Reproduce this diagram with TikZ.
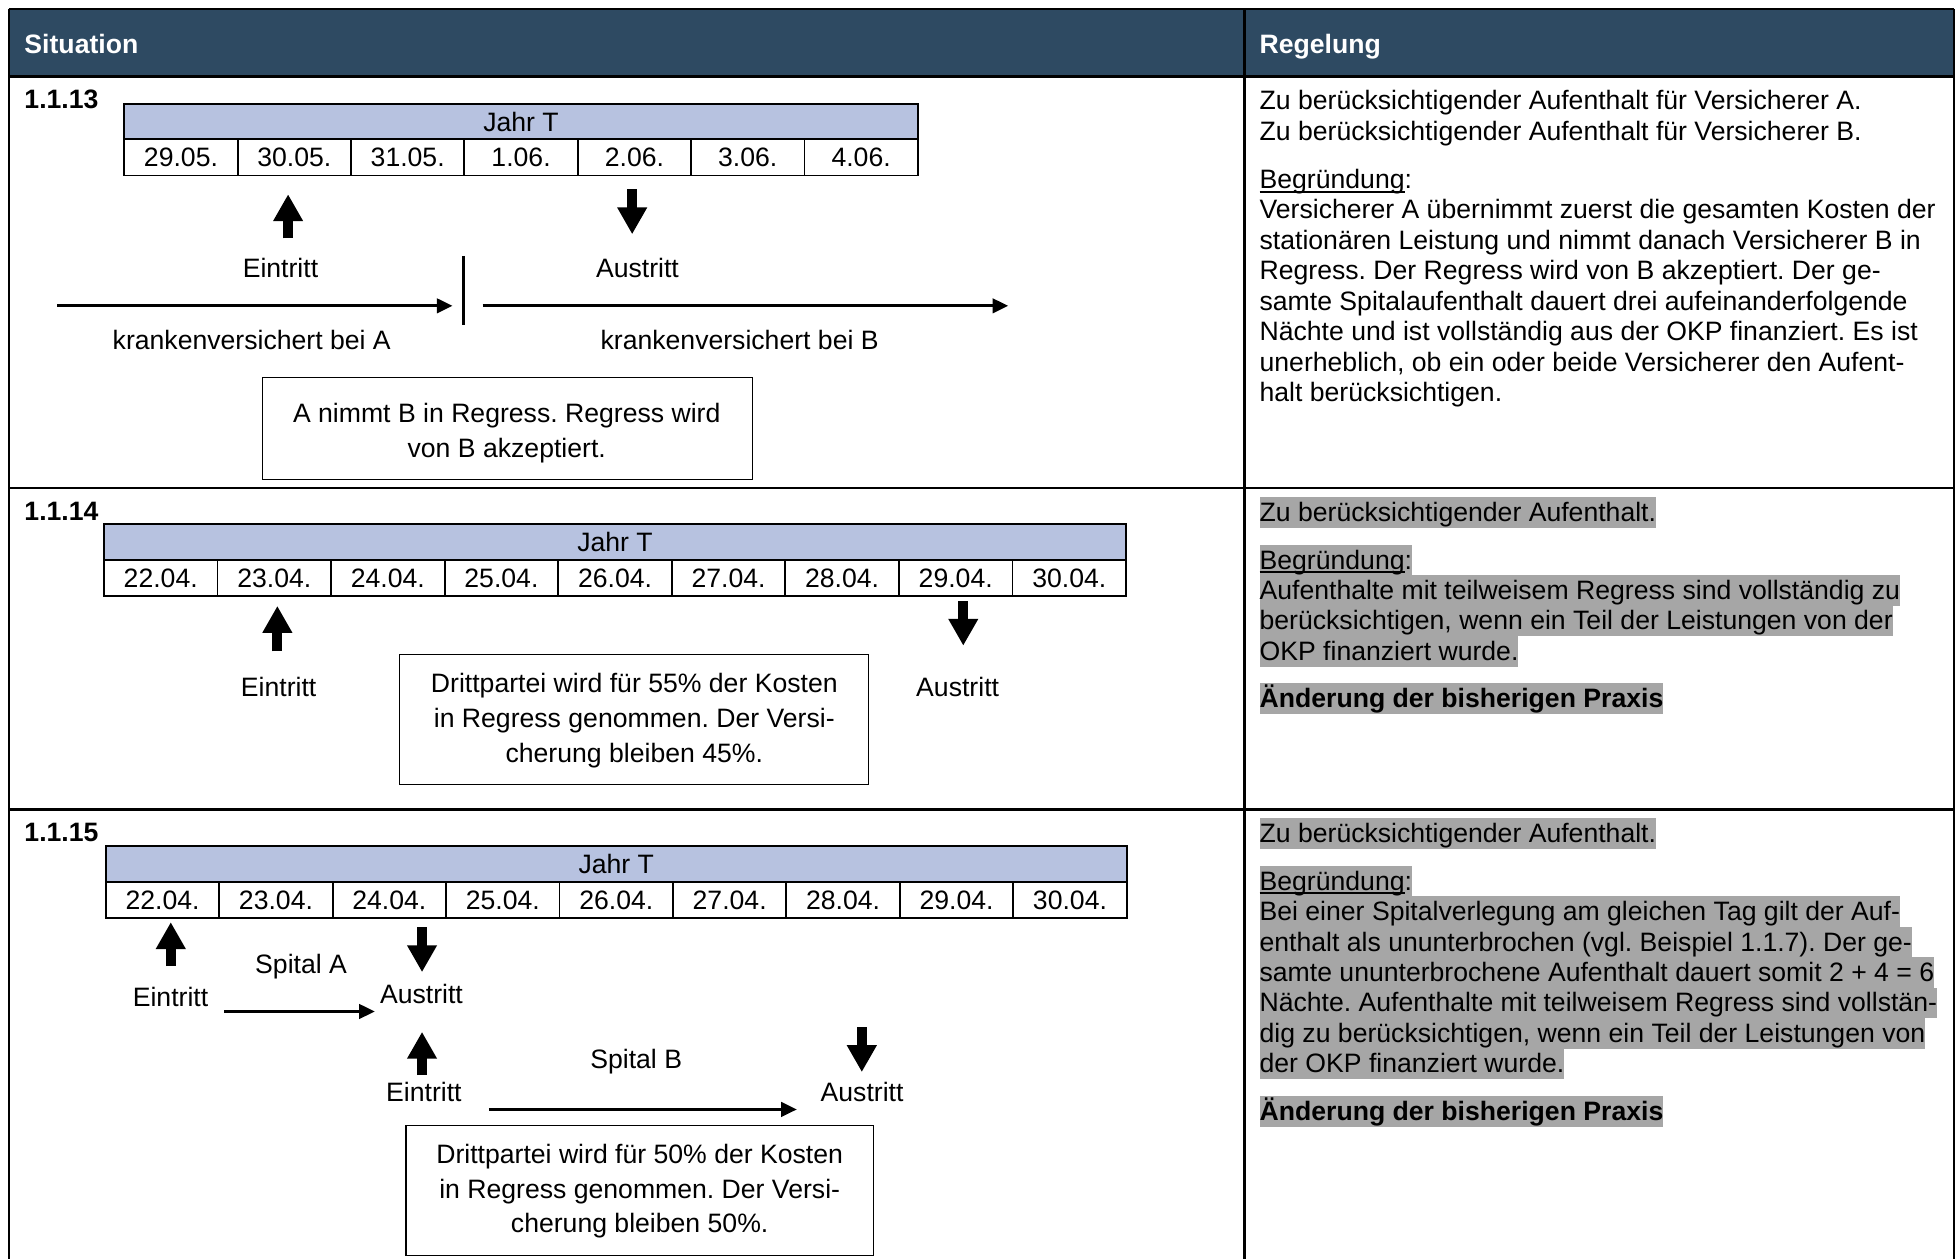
\documentclass[tikz,border=0pt]{standalone}
\usepackage{fontspec}
\setmainfont{Liberation Sans}
\usetikzlibrary{arrows.meta}
\definecolor{hdrblue}{RGB}{46,74,98}
\definecolor{jahrblue}{RGB}{183,194,224}
\definecolor{hlgray}{RGB}{166,166,166}
\newcommand\fsz{\fontsize{21.3}{28}\selectfont\frenchspacing}
\newcommand\myul[1]{\setbox0\hbox{#1}\rlap{\rule[-3.2pt]{\wd0}{1.5pt}}\box0}
\tikzset{
  rule/.style={line width=1.8pt},
  jahr/.style={draw, line width=1.5pt, fill=jahrblue, inner sep=0pt, minimum height=28.3pt},
  datecell/.style={draw, line width=1.5pt, inner sep=0pt, minimum height=29pt},
  lbl/.style={inner sep=0pt, anchor=base},
  txt/.style={inner sep=0pt, anchor=base west},
  hl/.style={inner sep=0pt, anchor=base west, fill=hlgray, text height=19.5pt, text depth=5pt},
  hdrtxt/.style={inner sep=0pt, anchor=base west, text=white, font=\fsz\bfseries},
  numlbl/.style={inner sep=0pt, anchor=base west, font=\fsz\bfseries},
  bigarrow/.style={line width=7.8pt, -{Triangle[width=22.5pt,length=21.5pt]}},
  thinarrow/.style={line width=2.4pt, -{Triangle[width=11.5pt,length=12.5pt]}},
  notebox/.style={draw, line width=0.9pt, inner sep=0pt, align=center},
}
\begin{document}
\begin{tikzpicture}[x=1pt,y=-1pt, every node/.style={font=\fsz}]
\useasboundingbox (0,0) rectangle (1568,1008);
% header
\fill[hdrblue] (7,7) rectangle (1564,61.3);
\node[hdrtxt] (hsit) at (19.4,42.5) {Situation};
\node[hdrtxt] (hreg) at (1008,42.5) {Regelung};
% grid
\draw[rule] (7,7) -- (1564,7);
\draw[rule] (7,7) -- (7,1008);
\draw[rule] (1564,7) -- (1564,1008);
\draw[rule] (996,7) -- (996,1008);
\draw[rule] (7,61.3) -- (1564,61.3);
\draw[rule] (7,390.7) -- (1564,390.7);
\draw[rule] (7,648) -- (1564,648);

% ================= Row 1.1.13
\node[numlbl] (n13) at (19.4,87.2) {1.1.13};
\node[jahr, minimum width=635.1pt] (ja) at ({99.5+635.1/2},97.35) {Jahr T};
\foreach \d [count=\i] in {29.05.,30.05.,31.05.,1.06.,2.06.,3.06.,4.06.}
  \node[datecell, minimum width=90.73pt] (ta\i) at ({99.5+(\i-0.5)*90.73},126) {\d};
\coordinate (a1s) at (230.6,190.7); \coordinate (a1e) at (230.6,155.5);
\draw[bigarrow] (a1s) -- (a1e);
\coordinate (a2s) at (506,151.5); \coordinate (a2e) at (506,187.5);
\draw[bigarrow] (a2s) -- (a2e);
\node[lbl] (ein1) at (224.5,221.8) {Eintritt};
\node[lbl] (aus1) at (510.2,222.5) {Austritt};
\coordinate (kAs) at (45.9,244.8); \coordinate (kAe) at (362.2,244.8);
\draw[thinarrow] (kAs) -- (kAe);
\coordinate (bar1) at (370.9,204.8); \coordinate (bar2) at (370.9,260.5);
\draw[line width=3pt] (bar1) -- (bar2);
\coordinate (kBs) at (386.2,244.8); \coordinate (kBe) at (807,244.8);
\draw[thinarrow] (kBs) -- (kBe);
\node[lbl] (kvA) at (201.5,279.5) {krankenversichert bei A};
\node[lbl] (kvB) at (592,279.5) {krankenversichert bei B};
\node[notebox, minimum width=391.8pt, minimum height=81.4pt] (box1) at (406.1,342.8) {};
\node[lbl] (b1l1) at (405.6,337.8) {A nimmt B in Regress. Regress wird};
\node[lbl] (b1l2) at (405.6,365.8) {von B akzeptiert.};

\node[txt] (r1a) at (1008,88) {Zu berücksichtigender Aufenthalt für Versicherer A.};
\node[txt] (r1b) at (1008,112.5) {Zu berücksichtigender Aufenthalt für Versicherer B.};
\node[txt] (r1c) at (1008,151) {\myul{Begründung}:};
\node[txt] (r1d) at (1008,175) {Versicherer A übernimmt zuerst die gesamten Kosten der};
\node[txt] (r1e) at (1008,199.4) {stationären Leistung und nimmt danach Versicherer B in};
\node[txt] (r1f) at (1008,223.8) {Regress. Der Regress wird von B akzeptiert. Der ge-};
\node[txt] (r1g) at (1008,248.2) {samte Spitalaufenthalt dauert drei aufeinanderfolgende};
\node[txt] (r1h) at (1008,272.6) {Nächte und ist vollständig aus der OKP finanziert. Es ist};
\node[txt] (r1i) at (1008,297) {unerheblich, ob ein oder beide Versicherer den Aufent-};
\node[txt] (r1j) at (1008,321.4) {halt berücksichtigen.};

% ================= Row 1.1.14
\node[numlbl] (n14) at (19.4,416.5) {1.1.14};
\node[jahr, minimum width=818.1pt] (jb) at ({83.2+818.1/2},433.75) {Jahr T};
\foreach \d [count=\i] in {22.04.,23.04.,24.04.,25.04.,26.04.,27.04.,28.04.,29.04.,30.04.}
  \node[datecell, minimum width=90.9pt, minimum height=29.3pt] (tb\i) at ({83.2+(\i-0.5)*90.9},462.65) {\d};
\coordinate (b1s) at (222,521.3); \coordinate (b1e) at (222,485);
\draw[bigarrow] (b1s) -- (b1e);
\coordinate (b2s) at (771,481.3); \coordinate (b2e) at (771,516.8);
\draw[bigarrow] (b2s) -- (b2e);
\node[lbl] (ein2) at (223,557.5) {Eintritt};
\node[lbl] (aus2) at (766.5,557.5) {Austritt};
\node[notebox, minimum width=374.9pt, minimum height=104.3pt] (box2) at (507.45,575.85) {};
\node[lbl] (b2l1) at (507.7,554.5) {Drittpartei wird für 55\% der Kosten};
\node[lbl] (b2l2) at (507.7,582.5) {in Regress genommen. Der Versi-};
\node[lbl] (b2l3) at (507.7,610.5) {cherung bleiben 45\%.};

\node[hl] (r2a) at (1008,417.5) {Zu berücksichtigender Aufenthalt.};
\node[hl] (r2b) at (1008,455.5) {\myul{Begründung}:};
\node[hl] (r2c) at (1008,479.8) {Aufenthalte mit teilweisem Regress sind vollständig zu};
\node[hl] (r2d) at (1008,504.2) {berücksichtigen, wenn ein Teil der Leistungen von der};
\node[hl] (r2e) at (1008,528.6) {OKP finanziert wurde.};
\node[hl, font=\fsz\bfseries] (r2f) at (1008,566.5) {Änderung der bisherigen Praxis};

% ================= Row 1.1.15
\node[numlbl] (n15) at (19.4,673.9) {1.1.15};
\node[jahr, minimum width=817.1pt, minimum height=28.6pt] (jc) at ({84.7+817.1/2},691.6) {Jahr T};
\foreach \d [count=\i] in {22.04.,23.04.,24.04.,25.04.,26.04.,27.04.,28.04.,29.04.,30.04.}
  \node[datecell, minimum width=90.79pt, minimum height=28.8pt] (tc\i) at ({84.7+(\i-0.5)*90.79},720.3) {\d};
\coordinate (c1s) at (136.7,773.3); \coordinate (c1e) at (136.7,738.1);
\draw[bigarrow] (c1s) -- (c1e);
\coordinate (c2s) at (337.8,742.1); \coordinate (c2e) at (337.8,778.1);
\draw[bigarrow] (c2s) -- (c2e);
\coordinate (c3s) at (337.8,860.5); \coordinate (c3e) at (337.8,825.9);
\draw[bigarrow] (c3s) -- (c3e);
\coordinate (c4s) at (689.8,822.1); \coordinate (c4e) at (689.8,858.1);
\draw[bigarrow] (c4s) -- (c4e);
\node[lbl] (ein3) at (136.5,806) {Eintritt};
\node[lbl] (spA) at (241,779.5) {Spital A};
\node[lbl] (aus3) at (337.3,803.5) {Austritt};
\coordinate (sAs) at (179.6,809.6); \coordinate (sAe) at (300,809.6);
\draw[thinarrow] (sAs) -- (sAe);
\node[lbl] (ein4) at (339.3,882) {Eintritt};
\node[lbl] (spB) at (509.2,855.5) {Spital B};
\node[lbl] (aus4) at (690,881.8) {Austritt};
\coordinate (sBs) at (391.3,888); \coordinate (sBe) at (637.8,888);
\draw[thinarrow] (sBs) -- (sBe);
\node[notebox, minimum width=374pt, minimum height=104pt] (box3) at (512,952.8) {};
\node[lbl] (b3l1) at (512,931.2) {Drittpartei wird für 50\% der Kosten};
\node[lbl] (b3l2) at (512,959.2) {in Regress genommen. Der Versi-};
\node[lbl] (b3l3) at (512,986.5) {cherung bleiben 50\%.};

\node[hl] (r3a) at (1008,674.5) {Zu berücksichtigender Aufenthalt.};
\node[hl] (r3b) at (1008,712.5) {\myul{Begründung}:};
\node[hl] (r3c) at (1008,736.8) {Bei einer Spitalverlegung am gleichen Tag gilt der Auf-};
\node[hl] (r3d) at (1008,761.2) {enthalt als ununterbrochen (vgl. Beispiel 1.1.7). Der ge-};
\node[hl] (r3e) at (1008,785.6) {samte ununterbrochene Aufenthalt dauert somit 2 + 4 = 6};
\node[hl] (r3f) at (1008,810) {Nächte. Aufenthalte mit teilweisem Regress sind vollstän-};
\node[hl] (r3g) at (1008,834.4) {dig zu berücksichtigen, wenn ein Teil der Leistungen von};
\node[hl] (r3h) at (1008,858.8) {der OKP finanziert wurde.};
\node[hl, font=\fsz\bfseries] (r3i) at (1008,897) {Änderung der bisherigen Praxis};
\end{tikzpicture}
\end{document}
